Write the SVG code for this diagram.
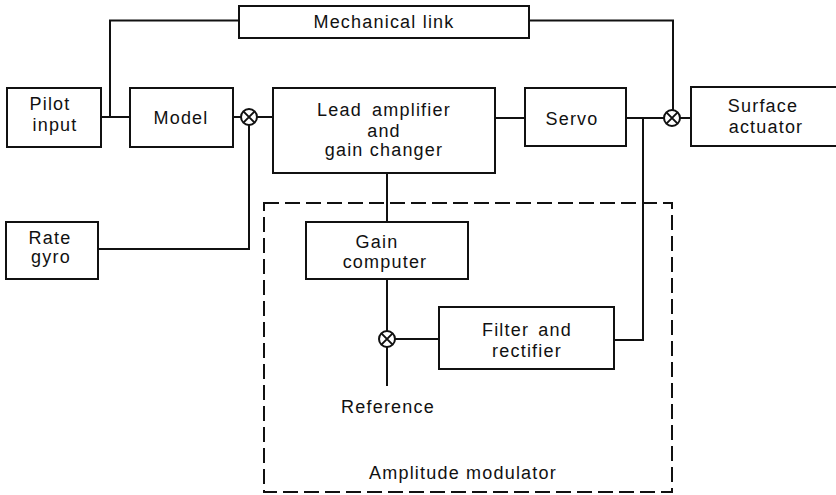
<svg xmlns="http://www.w3.org/2000/svg" width="836" height="495" viewBox="0 0 836 495">
<style>
.box{fill:#fff;stroke:#111;stroke-width:2}
.ln{fill:none;stroke:#111;stroke-width:2}
.dash{fill:none;stroke:#111;stroke-width:2;stroke-dasharray:15 6}
text{font-family:"Liberation Sans",Arial,sans-serif;font-size:18px;fill:#111;text-anchor:middle;letter-spacing:1.2px}
</style>
<defs>
<g id="sum"><circle r="8" class="box"/><path d="M-5.6,-5.6L5.6,5.6M-5.6,5.6L5.6,-5.6" class="ln"/></g>
</defs>
<rect fill="#fff" width="836" height="495"/>
<g id="connectors">
<path class="ln" d="M110,117V20.5H239"/>
<path class="ln" d="M529,20.5H673V110"/>
<path class="ln" d="M101,117H130"/>
<path class="ln" d="M233,117H241"/>
<path class="ln" d="M257,117H273"/>
<path class="ln" d="M249,125V249H98"/>
<path class="ln" d="M495,118H525"/>
<path class="ln" d="M626,118H664"/>
<path class="ln" d="M680,118H691"/>
<path class="ln" d="M643,118V340H614"/>
<path class="ln" d="M387,173V222"/>
<path class="ln" d="M387,279V331"/>
<path class="ln" d="M387,347V386"/>
<path class="ln" d="M395,339H439"/>
</g>
<g id="amplitude-modulator">
<rect class="dash" x="264" y="203" width="408" height="289"/>
<text x="463" y="479">Amplitude modulator</text>
</g>
<g id="mechanical-link"><rect class="box" x="239" y="6" width="290" height="32"/><text x="384" y="28">Mechanical link</text></g>
<g id="pilot-input"><rect class="box" x="7" y="88" width="94" height="59"/><text x="50" y="110">Pilot</text><text x="55" y="131">input</text></g>
<g id="model"><rect class="box" x="130" y="88" width="103" height="59"/><text x="181" y="124">Model</text></g>
<g id="sum1"><use href="#sum" x="249" y="117"/></g>
<g id="lead-amplifier"><rect class="box" x="273" y="88" width="222" height="85"/><text x="384" y="116" word-spacing="4">Lead amplifier</text><text x="384" y="137">and</text><text x="384" y="156">gain changer</text></g>
<g id="servo"><rect class="box" x="525" y="88" width="101" height="58"/><text x="572" y="125">Servo</text></g>
<g id="sum2"><use href="#sum" x="672" y="118"/></g>
<g id="surface-actuator"><rect class="box" x="691" y="87" width="150" height="59"/><text x="763" y="112">Surface</text><text x="766" y="133">actuator</text></g>
<g id="rate-gyro"><rect class="box" x="6" y="222" width="92" height="57"/><text x="50" y="244">Rate</text><text x="51" y="263">gyro</text></g>
<g id="gain-computer"><rect class="box" x="306" y="222" width="162" height="57"/><text x="377" y="248">Gain</text><text x="385" y="268">computer</text></g>
<g id="sum3"><use href="#sum" x="387" y="339"/></g>
<g id="filter-rectifier"><rect class="box" x="439" y="307" width="175" height="62"/><text x="527" y="336" word-spacing="3">Filter and</text><text x="527" y="357">rectifier</text></g>
<g id="reference"><text x="388" y="413">Reference</text></g>
</svg>
